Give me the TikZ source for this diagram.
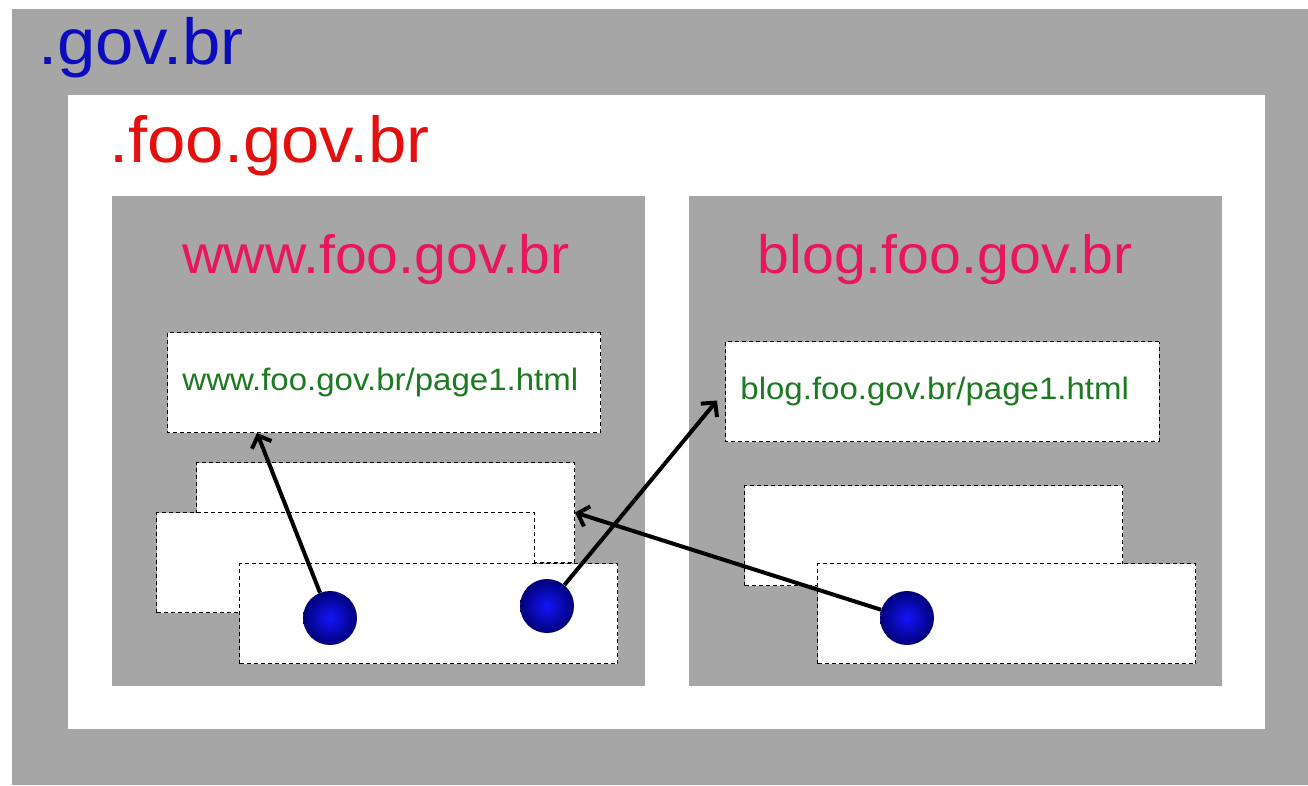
\documentclass[tikz,border=0pt]{standalone}
\usepackage{fontspec}
\setmainfont{Liberation Sans}
\usetikzlibrary{arrows.meta}
\definecolor{cinza}{RGB}{166,166,166}
\definecolor{azul}{RGB}{12,12,190}
\definecolor{vermelho}{RGB}{228,16,16}
\definecolor{rosa}{RGB}{232,22,92}
\definecolor{verde}{RGB}{28,122,32}
\begin{document}
\begin{tikzpicture}[x=1pt, y=-1pt,
    titulo/.style={inner sep=0pt, xscale=1.06},
    caixa/.style={draw, fill=white, dash pattern=on 4pt off 3pt, line width=1pt,
        minimum width=378pt, minimum height=100pt, inner sep=0pt, anchor=north west},
    pagina/.style={caixa, xscale=1.065, text width=379pt, inner xsep=14pt, align=left,
        text=verde, font=\fontsize{31}{36}\selectfont},
    bola/.style={circle, minimum size=54pt, inner sep=0pt,
        inner color={rgb,255:red,20;green,20;blue,250}, outer color={rgb,255:red,0;green,0;blue,120}},
    seta/.style={line width=4pt, -{Straight Barb[length=10pt,width=21pt]}}]
\useasboundingbox (0,0) rectangle (1308,785);
% Dominios
\fill[cinza] (12,9) rectangle (1308,785);
\node[titulo, anchor=base west, text=azul, font=\fontsize{65}{78}\selectfont] (gov) at (38,64) {.gov.br};
\fill[white] (68,95) rectangle (1265,729);
\node[titulo, anchor=base west, text=vermelho, font=\fontsize{65}{78}\selectfont] (foo) at (109,162) {.foo.gov.br};
% Sites
\fill[cinza] (112,196) rectangle (645,686);
\fill[cinza] (689,196) rectangle (1222,686);
\node[titulo, anchor=base, text=rosa, font=\fontsize{54}{64}\selectfont] (www) at (376,273) {www.foo.gov.br};
\node[titulo, anchor=base, text=rosa, font=\fontsize{54}{64}\selectfont] (blog) at (945,273) {blog.foo.gov.br};
% Paginas
\node[pagina] (PW) at (167,332) {www.foo.gov.br/page1.html};
\node[pagina] (PB) at (725,341) {blog.foo.gov.br/page1.html};
\foreach \nome/\x/\y in {W1/196/462, W2/156/512, W3/239/563, B1/744/485, B2/817/563}
    \node[caixa] (\nome) at (\x,\y) {};
% Links
\node[bola] (bola1) at (330,618) {};
\node[bola] (bola2) at (547,606) {};
\node[bola] (bola3) at (907,618) {};
\draw[seta] (bola1) -- ([xshift=90pt]PW.south west);
\draw[seta] (bola2) -- ([xshift=-8pt,yshift=-9pt]PB.west);
\draw[seta] (bola3) -- (W1.east);
\end{tikzpicture}
\end{document}
